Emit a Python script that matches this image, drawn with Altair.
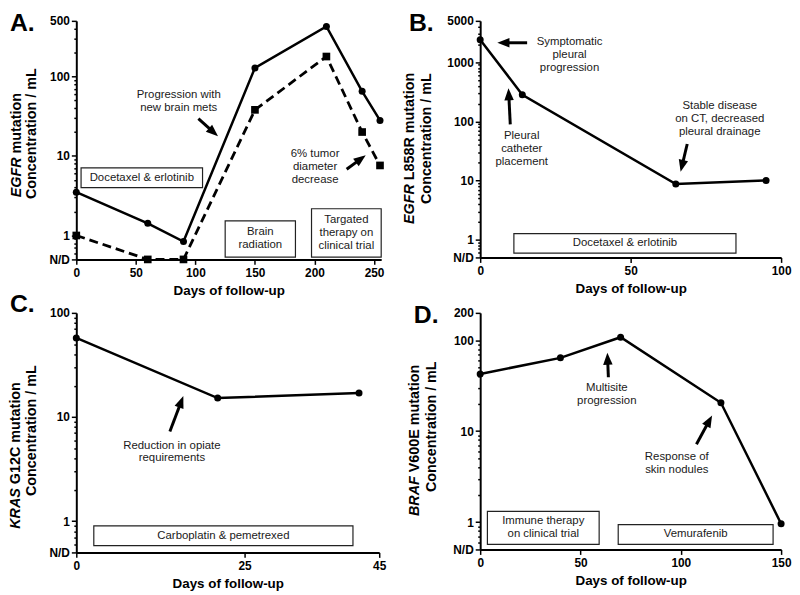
import math
import json
import altair as alt
import pandas as pd

ND = 0.5  # position used for "N/D" (not detected)

# ---------------- Panel A ----------------
a_days = [0, 60, 90, 150, 210, 240, 255]
a_solid = [3.5, 1.42, 0.84, 128, 426, 65, 28]
a_dashed = [1.0, ND, ND, 38, 178, 20, 7.6]
a_box_text = ["Docetaxel & erlotinib", "Brain\nradiation", "Targated\ntherapy on\nclinical trial"]
a_box_x1 = [4, 125, 197.5]
a_box_x2 = [106, 184, 256]
a_box_y1 = [4.0, 0.535, 0.535]
a_box_y2 = [7.1, 1.53, 2.17]
a_note_text = ["Progression with\nnew brain mets", "6% tumor\ndiameter\ndecrease"]
a_note_x = [86, 200.5]
a_note_y = [48, 7.3]
a_arrow_x1 = [102.5, 227]
a_arrow_y1 = [29.4, 6.8]
a_arrow_x2 = [119, 243]
a_arrow_y2 = [17.7, 10.2]

# ---------------- Panel B ----------------
b_days = [0, 14, 65, 95]
b_vals = [2400, 282, 8.7, 10]
b_box_text = ["Docetaxel & erlotinib"]
b_box_x1 = [11.2]
b_box_x2 = [85.0]
b_box_y1 = [0.59]
b_box_y2 = [1.26]
b_note_text = ["Symptomatic\npleural\nprogression", "Pleural\ncatheter\nplacement",
               "Stable disease\non CT, decreased\npleural drainage"]
b_note_x = [29.7, 13.8, 79.6]
b_note_y = [1334, 34, 108]
b_arrow_x1 = [15.6, 10.0, 68.8]
b_arrow_y1 = [2130, 89, 41.4]
b_arrow_x2 = [5.7, 9.4, 66.6]
b_arrow_y2 = [2130, 363, 14]

# ---------------- Panel C ----------------
c_days = [0, 21, 42]
c_vals = [57.5, 15.2, 17]
c_box_text = ["Carboplatin & pemetrexed"]
c_box_x1 = [2.6]
c_box_x2 = [41.1]
c_box_y1 = [0.58]
c_box_y2 = [0.90]
c_note_text = ["Reduction in opiate\nrequirements"]
c_note_x = [14.2]
c_note_y = [4.61]
c_arrow_x1 = [13.9]
c_arrow_y1 = [7.24]
c_arrow_x2 = [15.9]
c_arrow_y2 = [15.9]

# ---------------- Panel D ----------------
d_days = [0, 40, 70, 120, 150]
d_vals = [42.6, 64, 108, 20.5, 0.96]
d_box_text = ["Immune therapy\non clinical trial", "Vemurafenib"]
d_box_x1 = [3.6, 68.8]
d_box_x2 = [59.3, 146]
d_box_y1 = [0.57, 0.57]
d_box_y2 = [1.31, 0.94]
d_note_text = ["Multisite\nprogression", "Response of\nskin nodules"]
d_note_x = [63.1, 98]
d_note_y = [25.1, 4.37]
d_arrow_x1 = [63.9, 107.8]
d_arrow_y1 = [39.2, 7.19]
d_arrow_x2 = [63.4, 115.6]
d_arrow_y2 = [73, 14.9]

FONT = "Liberation Sans"
HEAD_PATH = "M0,0L-0.78,2L0.78,2Z"
LH = 13


def panel(p):
    W, H = p["w"], p["h"]
    xdom, ydom = p["xdom"], p["ydom"]
    xs = alt.Scale(domain=xdom, nice=False, zero=False)
    ys = alt.Scale(type="log", domain=ydom, nice=False)

    major = p["ymajor"]
    minor = []
    for k in range(-1, 4):
        for m in range(2, 10):
            v = round(m * 10 ** k, 6)
            if ydom[0] < v < ydom[1] and v not in major:
                minor.append(v)
    yvals = sorted(major + minor)
    lab = [v for v in major if v != ND]
    label_expr = (f"datum.value == {ND} ? 'N/D' : (indexof({json.dumps(lab)}, datum.value) >= 0 "
                  f"? format(datum.value, 'd') : '')")
    minor_test = f"indexof({json.dumps(major)}, datum.value) < 0"

    yaxis = alt.Axis(values=yvals, labelExpr=label_expr, labelOverlap=False, title=None, grid=False,
                     tickSize={"condition": {"test": minor_test, "value": 2.5}, "value": 5},
                     tickColor="black", tickWidth=1.5, domainColor="black", domainWidth=2,
                     labelFont=FONT, labelFontWeight="bold", labelFontSize=12, labelColor="black",
                     labelPadding=2, labelFlush=False)
    xaxis = alt.Axis(values=p["xticks"], title="Days of follow-up", grid=False, tickSize=5,
                     tickColor="black", tickWidth=1.5, domainColor="black", domainWidth=2,
                     labelFont=FONT, labelFontWeight="bold", labelFontSize=12, labelColor="black",
                     labelPadding=3, labelFlush=False, labelOverlap=False,
                     titleFont=FONT, titleFontWeight="bold", titleFontSize=13.5, titleColor="black",
                     titlePadding=5)

    def X(f):
        return alt.X(f, type="quantitative", scale=xs, axis=xaxis)

    def Y(f):
        return alt.Y(f, type="quantitative", scale=ys, axis=yaxis)

    def text_layers(df):
        # multi-line text blocks, centred vertically on their anchor
        out = []
        df = df.copy()
        df["n"] = df["t"].str.count("\n") + 1
        for n, sub in df.groupby("n"):
            out.append(alt.Chart(sub).mark_text(
                font=FONT, fontSize=11.5, color="#1a1a1a", lineBreak="\n", lineHeight=LH,
                baseline="middle", dy=-(n - 1) * LH / 2).encode(x=X("x"), y=Y("y"), text="t:N"))
        return out

    layers = []

    # treatment boxes
    boxes = pd.DataFrame({"t": p["box_text"], "x1": p["box_x1"], "x2": p["box_x2"],
                          "y1": p["box_y1"], "y2": p["box_y2"]})
    boxes["x"] = (boxes["x1"] + boxes["x2"]) / 2
    boxes["y"] = (boxes["y1"] * boxes["y2"]) ** 0.5
    layers.append(alt.Chart(boxes).mark_rect(fill="white", stroke="#222", strokeWidth=1.2).encode(
        x=X("x1"), x2="x2:Q", y=Y("y1"), y2="y2:Q"))
    layers += text_layers(boxes[["t", "x", "y"]])

    # data series
    for s in p["series"]:
        df = pd.DataFrame({"day": s["days"], "val": s["vals"]})
        line_kw = dict(color="black", strokeWidth=2.5)
        if s["dash"]:
            line_kw["strokeDash"] = [9, 5]
            line_kw["strokeWidth"] = 2.8
        layers.append(alt.Chart(df).mark_line(**line_kw).encode(x=X("day"), y=Y("val")))
        layers.append(alt.Chart(df).mark_point(shape=s["shape"], filled=True, color="black", opacity=1,
                                               size=s["size"]).encode(x=X("day"), y=Y("val")))

    # notes
    notes = pd.DataFrame({"t": p["note_text"], "x": p["note_x"], "y": p["note_y"]})
    layers += text_layers(notes)

    # arrows
    pxd = W / (xdom[1] - xdom[0])
    pdec = H / (math.log10(ydom[1]) - math.log10(ydom[0]))
    rows = []
    for x1, y1, x2, y2 in zip(p["ax1"], p["ay1"], p["ax2"], p["ay2"]):
        dx = (x2 - x1) * pxd
        dy = -(math.log10(y2) - math.log10(y1)) * pdec
        length = math.hypot(dx, dy)
        ang = math.degrees(math.atan2(dx, -dy)) % 360
        f = max(0.0, 1 - 7.0 / length)
        ex = x1 + f * (x2 - x1)
        ey = 10 ** (math.log10(y1) + f * (math.log10(y2) - math.log10(y1)))
        rows.append({"x1": x1, "y1": y1, "ex": ex, "ey": ey, "x2": x2, "y2": y2, "ang": ang})
    arr = pd.DataFrame(rows)
    layers.append(alt.Chart(arr).mark_rule(color="black", strokeWidth=3).encode(
        x=X("x1"), y=Y("y1"), x2="ex:Q", y2="ey:Q"))
    layers.append(alt.Chart(arr).mark_point(shape=HEAD_PATH, filled=True, color="black", opacity=1,
                                            size=150, strokeWidth=0).encode(
        x=X("x2"), y=Y("y2"), angle=alt.Angle("ang:Q", scale=None)))

    # panel letter
    lt = p["letter"]
    layers.append(alt.Chart(pd.DataFrame({"t": [lt[0]]})).mark_text(
        font=FONT, fontSize=25, fontWeight="bold", align="left", baseline="alphabetic", color="black").encode(
        text="t:N", x=alt.value(lt[1]), y=alt.value(lt[2])))

    # y-axis title (gene name in italics)
    yt = p["ytitle"]
    tdf = pd.DataFrame({"g": [yt["gene"]], "r": [yt["rest"]], "c": ["Concentration / mL"]})
    common = dict(font=FONT, fontSize=14.5, fontWeight="bold", angle=270, baseline="middle", color="black")
    layers.append(alt.Chart(tdf).mark_text(fontStyle="italic", align="right", **common).encode(
        text="g:N", x=alt.value(yt["x1"]), y=alt.value(yt["anchor"])))
    layers.append(alt.Chart(tdf).mark_text(align="left", dx=4, **common).encode(
        text="r:N", x=alt.value(yt["x1"]), y=alt.value(yt["anchor"])))
    layers.append(alt.Chart(tdf).mark_text(align="center", **common).encode(
        text="c:N", x=alt.value(yt["x2"]), y=alt.value(yt["c2"])))

    return alt.layer(*layers).properties(width=W, height=H)


pA = dict(w=308, h=241, xdom=[0, 256], ydom=[ND, 500], xticks=[0, 50, 100, 150, 200, 250],
          ymajor=[ND, 1, 10, 100, 500],
          series=[dict(days=a_days, vals=a_solid, dash=False, shape="circle", size=50),
                  dict(days=a_days, vals=a_dashed, dash=True, shape="square", size=60)],
          box_text=a_box_text, box_x1=a_box_x1, box_x2=a_box_x2, box_y1=a_box_y1, box_y2=a_box_y2,
          note_text=a_note_text, note_x=a_note_x, note_y=a_note_y,
          ax1=a_arrow_x1, ay1=a_arrow_y1, ax2=a_arrow_x2, ay2=a_arrow_y2,
          letter=("A.", -67, 10),
          ytitle=dict(gene="EGFR", rest="mutation", x1=-60, x2=-45, anchor=138, c2=114))

pB = dict(w=304, h=239, xdom=[0, 100], ydom=[ND, 5000], xticks=[0, 50, 100],
          ymajor=[ND, 1, 10, 100, 1000, 5000],
          series=[dict(days=b_days, vals=b_vals, dash=False, shape="circle", size=50)],
          box_text=b_box_text, box_x1=b_box_x1, box_x2=b_box_x2, box_y1=b_box_y1, box_y2=b_box_y2,
          note_text=b_note_text, note_x=b_note_x, note_y=b_note_y,
          ax1=b_arrow_x1, ay1=b_arrow_y1, ax2=b_arrow_x2, ay2=b_arrow_y2,
          letter=("B.", -72, 10),
          ytitle=dict(gene="EGFR", rest="L858R mutation", x1=-71, x2=-54, anchor=165, c2=119))

pC = dict(w=306, h=242, xdom=[0, 45], ydom=[ND, 100], xticks=[0, 25, 45],
          ymajor=[ND, 1, 10, 100],
          series=[dict(days=c_days, vals=c_vals, dash=False, shape="circle", size=50)],
          box_text=c_box_text, box_x1=c_box_x1, box_x2=c_box_x2, box_y1=c_box_y1, box_y2=c_box_y2,
          note_text=c_note_text, note_x=c_note_x, note_y=c_note_y,
          ax1=c_arrow_x1, ay1=c_arrow_y1, ax2=c_arrow_x2, ay2=c_arrow_y2,
          letter=("C.", -67, -1),
          ytitle=dict(gene="KRAS", rest="G12C mutation", x1=-61, x2=-45, anchor=177, c2=119))

pD = dict(w=304, h=239, xdom=[0, 150], ydom=[ND, 200], xticks=[0, 50, 100, 150],
          ymajor=[ND, 1, 10, 100, 200],
          series=[dict(days=d_days, vals=d_vals, dash=False, shape="circle", size=50)],
          box_text=d_box_text, box_x1=d_box_x1, box_x2=d_box_x2, box_y1=d_box_y1, box_y2=d_box_y2,
          note_text=d_note_text, note_x=d_note_x, note_y=d_note_y,
          ax1=d_arrow_x1, ay1=d_arrow_y1, ax2=d_arrow_x2, ay2=d_arrow_y2,
          letter=("D.", -67, 10),
          ytitle=dict(gene="BRAF", rest="V600E mutation", x1=-66, x2=-49, anchor=165, c2=115))

chart = alt.concat(panel(pA), panel(pB), panel(pC), panel(pD), columns=2,
                   spacing={"row": 54, "column": 100}, bounds="flush").properties(
    padding=0
).configure(font=FONT).configure_view(stroke=None)

chart.save("out.html", embed_options={"renderer": "svg", "actions": False})
